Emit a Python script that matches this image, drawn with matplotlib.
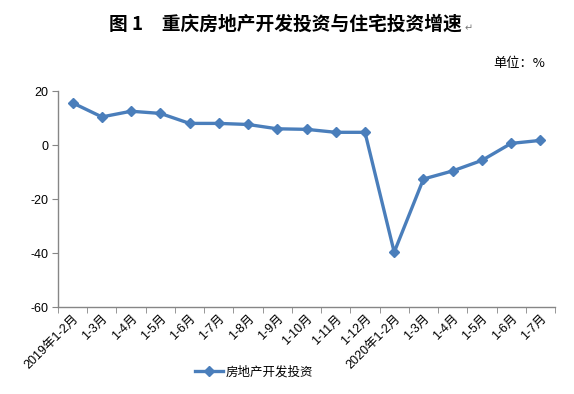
import matplotlib
matplotlib.use("Agg")
import matplotlib.pyplot as plt
import numpy as np

plt.rcParams['font.family'] = ['Liberation Sans', 'Noto Sans CJK SC', 'DejaVu Sans']
plt.rcParams['axes.unicode_minus'] = False

categories = ["2019年1-2月", "1-3月", "1-4月", "1-5月", "1-6月", "1-7月", "1-8月", "1-9月",
              "1-10月", "1-11月", "1-12月", "2020年1-2月", "1-3月", "1-4月", "1-5月", "1-6月", "1-7月"]
values = [15.6, 10.4, 12.5, 11.7, 8.0, 8.0, 7.6, 6.0, 5.8, 4.7, 4.7, -39.7, -12.6, -9.6, -5.7, 0.6, 1.7]
series_name = "房地产开发投资"
yticks = [-60, -40, -20, 0, 20]

fig = plt.figure(figsize=(5.74, 3.94), dpi=100)
ax = fig.add_axes([58/574, 1-307/394, (555-58)/574, (307-91)/394])

x = np.arange(len(categories))
ax.plot(x, values, color='#4A7EBB', lw=2.4, marker='D', ms=5.5, label=series_name)

ax.set_xlim(-0.5, len(categories)-0.5)
ax.set_ylim(-60, 20)
ax.set_yticks(yticks)
ax.set_xticks(x)
ax.set_xticklabels(categories, rotation=45, ha='right', rotation_mode='anchor',
                   family=['Liberation Sans', 'Noto Sans CJK SC'], fontsize=9)
ax.tick_params(axis='x', length=0, pad=4)
ax.set_xticks(np.arange(-0.5, len(categories)), minor=True)
ax.tick_params(axis='x', which='minor', length=4, color='#868686', direction='out')
ax.tick_params(axis='y', length=4, color='#868686', labelsize=9, pad=3)
for s in ['top', 'right']:
    ax.spines[s].set_visible(False)
for s in ['left', 'bottom']:
    ax.spines[s].set_color('#868686')
    ax.spines[s].set_linewidth(1)

fig.text(285/574, 1-24/394, "图 1　重庆房地产开发投资与住宅投资增速", ha='center', va='center',
         fontsize=13.5, fontweight='bold', family=['Noto Sans CJK SC', 'DejaVu Sans'])
fig.text(465/574, 1-28/394, "↵", ha='left', va='center', fontsize=7, color='#777777',
         family=['DejaVu Sans'])
fig.text(545/574, 1-64/394, "单位：%", ha='right', va='center', fontsize=9.5,
         family=['Noto Sans CJK SC', 'DejaVu Sans'])

leg = fig.legend(loc='center', bbox_to_anchor=(254/574, 1-372/394), frameon=False,
                 prop={'family': ['Noto Sans CJK SC'], 'size': 9}, handlelength=2.2,
                 handletextpad=0.2)

fig.savefig("out.png", dpi=100)
